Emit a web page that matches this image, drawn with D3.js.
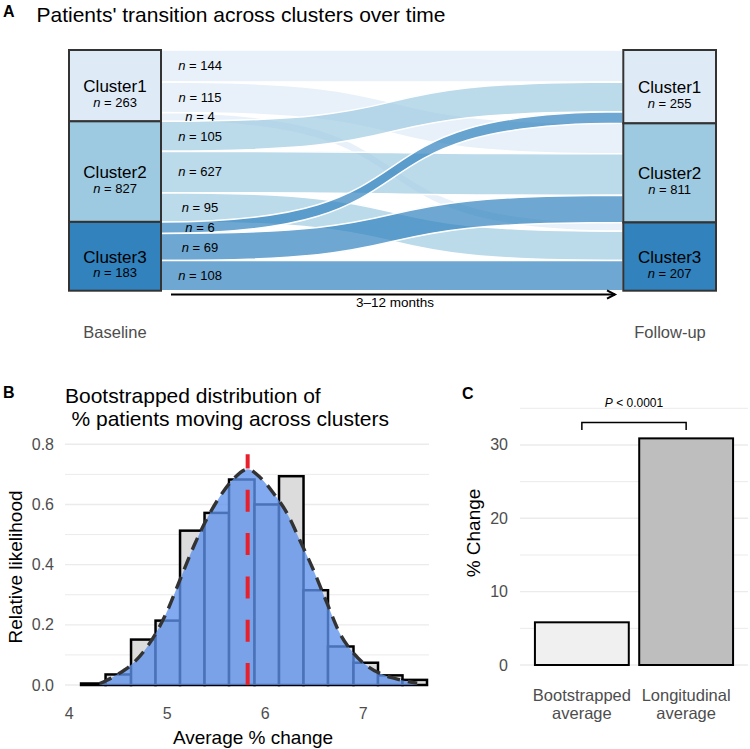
<!DOCTYPE html>
<html>
<head>
<meta charset="utf-8">
<script src="https://cdn.jsdelivr.net/npm/d3@7"></script>
<style>
  html, body { margin: 0; padding: 0; background: #fff; }
  svg { display: block; font-family: "Liberation Sans", Arial, sans-serif; }
</style>
</head>
<body>
<svg id="chart" width="750" height="749"></svg>
<script>
// ---------------- DATA ----------------
// Panel A: alluvial
const clusters = ["Cluster1", "Cluster2", "Cluster3"];
const baselineN = [263, 827, 183];
const followupN = [255, 811, 207];
const flowFrom = [0, 0, 0, 1, 1, 1, 2, 2, 2];
const flowTo   = [0, 1, 2, 0, 1, 2, 0, 1, 2];
const flowN    = [144, 115, 4, 105, 627, 95, 6, 69, 108];
const clusterColors = ["#deebf7", "#9ecae1", "#3182bd"];
const timeLabels = ["Baseline", "Follow-up"];

// Panel B: histogram + density
const histEdges   = [4.12, 4.37, 4.63, 4.88, 5.13, 5.38, 5.63, 5.89, 6.14, 6.39, 6.64, 6.90, 7.15, 7.40, 7.65];
const histHeights = [0.005, 0.035, 0.151, 0.214, 0.513, 0.572, 0.683, 0.600, 0.694, 0.315, 0.128, 0.074, 0.032, 0.017];
const densX = [4.31, 4.48, 4.65, 4.82, 4.99, 5.13, 5.27, 5.40, 5.54, 5.67, 5.82, 5.95, 6.08, 6.22, 6.35, 6.49, 6.63, 6.76, 6.90, 7.04, 7.21, 7.38, 7.55];
const densY = [0.005, 0.033, 0.072, 0.139, 0.239, 0.350, 0.461, 0.550, 0.628, 0.683, 0.717, 0.689, 0.639, 0.572, 0.483, 0.383, 0.272, 0.172, 0.106, 0.063, 0.033, 0.017, 0.006];
const meanValue = 5.82;
const meanLineTop = 0.767;
const bXTicks = [4, 5, 6, 7];
const bYTicks = [0.0, 0.2, 0.4, 0.6, 0.8];
const bYMinor = [0.1, 0.3, 0.5, 0.7];

// Panel C: bars
const cCategories = ["Bootstrapped average", "Longitudinal average"];
const cLabelLines = [["Bootstrapped", "average"], ["Longitudinal", "average"]];
const cValues = [5.82, 30.9];
const cColors = ["#f0f0f0", "#bebebe"];
const cYTicks = [0, 10, 20, 30];
const cYMinor = [5, 15, 25, 35];
const pLabel = "0.0001";
const bracketY = [32.05, 33.05];

// ---------------- DRAW ----------------
const svg = d3.select("#chart");
const tickGray = "#4d4d4d";
const gridCol = "#ebebeb";

// ===== Panel A =====
const A = svg.append("g");
A.append("text").attr("x", 3).attr("y", 17).attr("font-size", 16).attr("font-weight", "bold").text("A");
A.append("text").attr("x", 36.5).attr("y", 21.5).attr("font-size", 21).text("Patients' transition across clusters over time");

const wt = flowN.map(n => Math.log(n));
const totalW = d3.sum(wt);
const yA = d3.scaleLinear().domain([0, totalW]).range([50, 290.7]);
const xL0 = 69, xL1 = 161, xR0 = 623.3, xR1 = 716;

const flows = flowN.map((n, i) => ({ n, from: flowFrom[i], to: flowTo[i], w: wt[i], i }));
let acc = 0;
const leftStrata = clusters.map(() => ({}));
clusters.forEach((c, ci) => {
  leftStrata[ci].start = acc;
  flows.filter(f => f.from === ci).sort((a, b) => a.to - b.to).forEach(f => { f.l0 = acc; acc += f.w; f.l1 = acc; });
  leftStrata[ci].end = acc;
});
acc = 0;
const rightStrata = clusters.map(() => ({}));
clusters.forEach((c, ci) => {
  rightStrata[ci].start = acc;
  flows.filter(f => f.to === ci).sort((a, b) => a.from - b.from).forEach(f => { f.r0 = acc; acc += f.w; f.r1 = acc; });
  rightStrata[ci].end = acc;
});

const k = 0.65;
const span = xR0 - xL1;
function flowPath(f) {
  const x0 = xL1, x1 = xR0;
  const c1 = x0 + k * span, c2 = x1 - k * span;
  const a0 = yA(f.l0), a1 = yA(f.r0), b0 = yA(f.l1), b1 = yA(f.r1);
  return `M${x0},${a0}C${c1},${a0} ${c2},${a1} ${x1},${a1}L${x1},${b1}C${c2},${b1} ${c1},${b0} ${x0},${b0}Z`;
}
A.append("g").selectAll("path").data(flows).join("path")
  .attr("d", flowPath)
  .attr("fill", f => clusterColors[f.from])
  .attr("fill-opacity", 0.7)
  .attr("stroke", "#fff")
  .attr("stroke-width", 1.5);

function drawStrata(strata, counts, x0, x1) {
  strata.forEach((s, ci) => {
    const y0 = yA(s.start), y1 = yA(s.end);
    A.append("rect").attr("x", x0).attr("y", y0).attr("width", x1 - x0).attr("height", y1 - y0)
      .attr("fill", clusterColors[ci]).attr("stroke", "#333").attr("stroke-width", 2);
    const cx = (x0 + x1) / 2, cy = (y0 + y1) / 2;
    A.append("text").attr("x", cx).attr("y", cy + 6.5).attr("text-anchor", "middle").attr("font-size", 17).text(clusters[ci]);
    const t = A.append("text").attr("x", cx).attr("y", cy + 21).attr("text-anchor", "middle").attr("font-size", 13);
    t.append("tspan").attr("font-style", "italic").text("n");
    t.append("tspan").text(" = " + counts[ci]);
  });
}
drawStrata(leftStrata, baselineN, xL0, xL1);
drawStrata(rightStrata, followupN, xR0, xR1);

flows.forEach(f => {
  const cy = (yA(f.l0) + yA(f.l1)) / 2;
  const t = A.append("text").attr("x", 200).attr("y", cy + 4.5).attr("text-anchor", "middle").attr("font-size", 13);
  t.append("tspan").attr("font-style", "italic").text("n");
  t.append("tspan").text(" = " + f.n);
});

A.append("line").attr("x1", 171).attr("x2", 615).attr("y1", 294.5).attr("y2", 294.5).attr("stroke", "#000").attr("stroke-width", 2);
A.append("path").attr("d", "M607,290.3L615,294.5L607,298.7").attr("fill", "none").attr("stroke", "#000").attr("stroke-width", 2);
A.append("text").attr("x", 395).attr("y", 307).attr("text-anchor", "middle").attr("font-size", 13.5).text("3–12 months");
A.append("text").attr("x", 115).attr("y", 337.5).attr("text-anchor", "middle").attr("font-size", 16.5).attr("fill", tickGray).text(timeLabels[0]);
A.append("text").attr("x", 670).attr("y", 337.5).attr("text-anchor", "middle").attr("font-size", 16.5).attr("fill", tickGray).text(timeLabels[1]);

// ===== Panel B =====
const B = svg.append("g");
const xB = d3.scaleLinear().domain([4, 7]).range([69.3, 363.3]);
const yB = d3.scaleLinear().domain([0, 0.8]).range([685, 444.3]);
const bGridX0 = 65, bGridX1 = 429;
B.append("g").selectAll("line").data(bYMinor).join("line")
  .attr("x1", bGridX0).attr("x2", bGridX1).attr("y1", d => yB(d)).attr("y2", d => yB(d))
  .attr("stroke", gridCol).attr("stroke-width", 1);
B.append("g").selectAll("line").data(bYTicks).join("line")
  .attr("x1", bGridX0).attr("x2", bGridX1).attr("y1", d => yB(d)).attr("y2", d => yB(d))
  .attr("stroke", gridCol).attr("stroke-width", 1.4);

B.append("text").attr("x", 3).attr("y", 397.5).attr("font-size", 16).attr("font-weight", "bold").text("B");
B.append("text").attr("x", 65).attr("y", 403).attr("font-size", 21).text("Bootstrapped distribution of");
B.append("text").attr("x", 71.5).attr("y", 426).attr("font-size", 21).text("% patients moving across clusters");

B.append("g").selectAll("rect").data(histHeights).join("rect")
  .attr("x", (d, i) => xB(histEdges[i]))
  .attr("width", (d, i) => xB(histEdges[i + 1]) - xB(histEdges[i]))
  .attr("y", d => yB(d))
  .attr("height", d => yB(0) - yB(d))
  .attr("fill", "#dcdcdc").attr("stroke", "#000").attr("stroke-width", 2.5);

const dens = densX.map((x, i) => [x, densY[i]]);
B.append("path").datum(dens)
  .attr("d", d3.area().x(d => xB(d[0])).y0(yB(0)).y1(d => yB(d[1])).curve(d3.curveMonotoneX))
  .attr("fill", "#5f92ec").attr("fill-opacity", 0.78);

B.append("line").attr("x1", xB(meanValue)).attr("x2", xB(meanValue))
  .attr("y1", yB(0)).attr("y2", yB(meanLineTop))
  .attr("stroke", "#e8202c").attr("stroke-width", 4).attr("stroke-dasharray", "22,21.3");

B.append("path").datum(dens)
  .attr("d", d3.line().x(d => xB(d[0])).y(d => yB(d[1])).curve(d3.curveMonotoneX))
  .attr("fill", "none").attr("stroke", "#333").attr("stroke-width", 3.4)
  .attr("stroke-dasharray", "13,8").attr("stroke-linecap", "butt");

B.append("g").selectAll("text").data(bYTicks).join("text")
  .attr("x", 54).attr("y", d => yB(d) + 5.5).attr("text-anchor", "end")
  .attr("font-size", 16).attr("fill", tickGray).text(d => d3.format(".1f")(d));
B.append("g").selectAll("text").data(bXTicks).join("text")
  .attr("x", d => xB(d)).attr("y", 719).attr("text-anchor", "middle")
  .attr("font-size", 16).attr("fill", tickGray).text(d => d);
B.append("text").attr("x", 253).attr("y", 743.5).attr("text-anchor", "middle").attr("font-size", 19).text("Average % change");
B.append("text").attr("transform", "translate(21.7,567) rotate(-90)").attr("text-anchor", "middle").attr("font-size", 19).text("Relative likelihood");

// ===== Panel C =====
const C = svg.append("g");
const xC = d3.scaleBand().domain(cCategories).range([519.5, 748.5]).paddingInner(0.1).paddingOuter(0.148);
const yC = d3.scaleLinear().domain([0, 35]).range([665, 408.3]);
const cGridX0 = 520, cGridX1 = 748;
C.append("g").selectAll("line").data(cYMinor).join("line")
  .attr("x1", cGridX0).attr("x2", cGridX1).attr("y1", d => yC(d)).attr("y2", d => yC(d))
  .attr("stroke", gridCol).attr("stroke-width", 1);
C.append("g").selectAll("line").data(cYTicks).join("line")
  .attr("x1", cGridX0).attr("x2", cGridX1).attr("y1", d => yC(d)).attr("y2", d => yC(d))
  .attr("stroke", gridCol).attr("stroke-width", 1.4);

C.append("g").selectAll("rect").data(cValues).join("rect")
  .attr("x", (d, i) => xC(cCategories[i]))
  .attr("width", xC.bandwidth())
  .attr("y", d => yC(d))
  .attr("height", d => yC(0) - yC(d))
  .attr("fill", (d, i) => cColors[i]).attr("stroke", "#000").attr("stroke-width", 2);

const bx0 = xC(cCategories[0]) + xC.bandwidth() / 2;
const bx1 = xC(cCategories[1]) + xC.bandwidth() / 2;
C.append("path")
  .attr("d", `M${bx0},${yC(bracketY[0])}L${bx0},${yC(bracketY[1])}L${bx1},${yC(bracketY[1])}L${bx1},${yC(bracketY[0])}`)
  .attr("fill", "none").attr("stroke", "#000").attr("stroke-width", 1.5);
const pt = C.append("text").attr("x", (bx0 + bx1) / 2).attr("y", 407).attr("text-anchor", "middle").attr("font-size", 12);
pt.append("tspan").attr("font-style", "italic").text("P");
pt.append("tspan").text(" < " + pLabel);

C.append("text").attr("x", 462).attr("y", 399).attr("font-size", 16).attr("font-weight", "bold").text("C");
C.append("g").selectAll("text").data(cYTicks).join("text")
  .attr("x", 508).attr("y", d => yC(d) + 5.5).attr("text-anchor", "end")
  .attr("font-size", 16).attr("fill", tickGray).text(d => d);
cLabelLines.forEach((lines, i) => {
  const cx = xC(cCategories[i]) + xC.bandwidth() / 2;
  lines.forEach((ln, j) => {
    C.append("text").attr("x", cx).attr("y", 701 + j * 18.3).attr("text-anchor", "middle")
      .attr("font-size", 16.5).attr("fill", tickGray).text(ln);
  });
});
C.append("text").attr("transform", "translate(480,533) rotate(-90)").attr("text-anchor", "middle").attr("font-size", 19).text("% Change");
</script>
</body>
</html>
